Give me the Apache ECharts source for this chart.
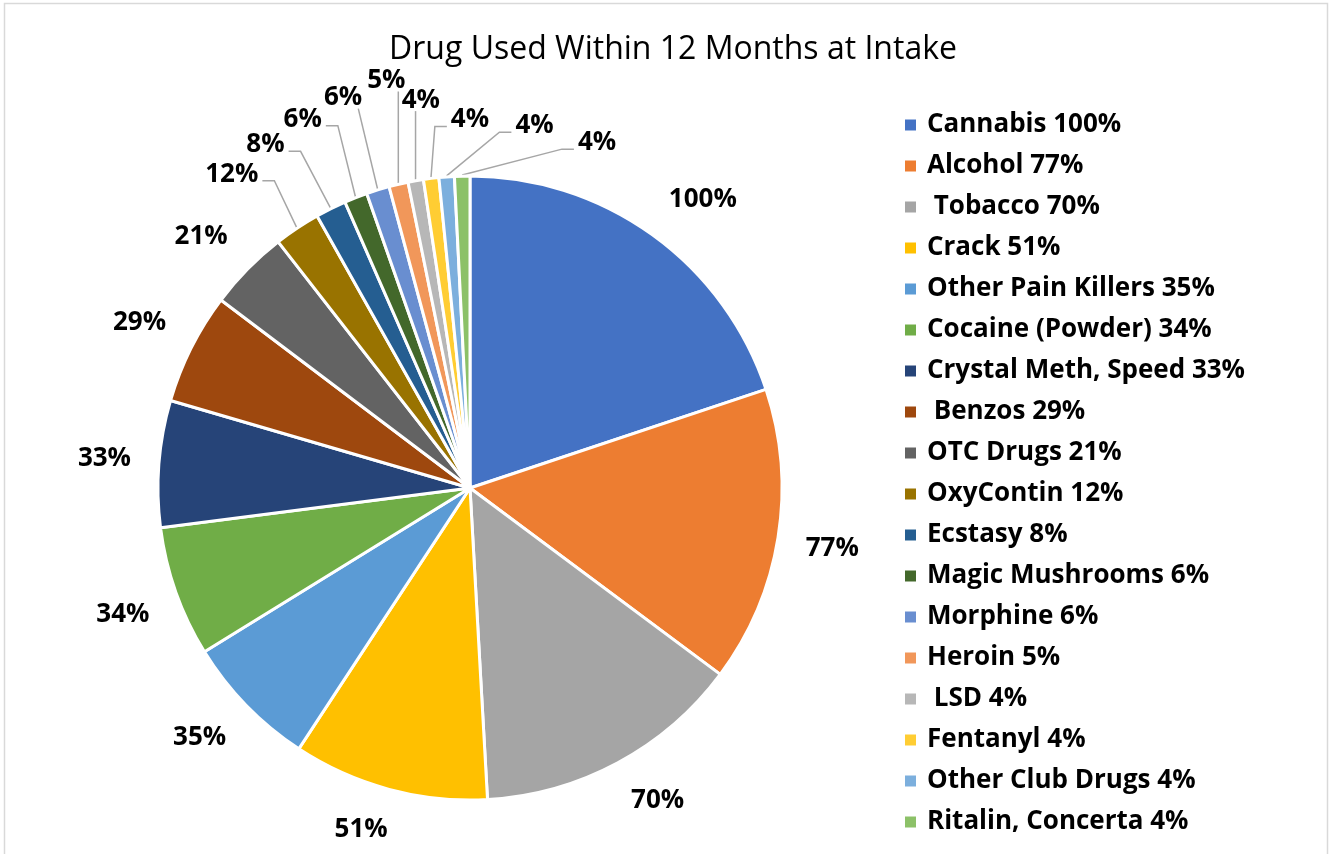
<!DOCTYPE html>
<html>
<head>
<meta charset="utf-8">
<title>Drug Used Within 12 Months at Intake</title>
<script src="https://cdn.jsdelivr.net/npm/echarts@6/dist/echarts.min.js"></script>
<style>
  html, body { margin: 0; padding: 0; background: #fff; }
  #chart { width: 1330px; height: 854px; }
</style>
</head>
<body>
<div id="chart"></div>
<script>
// Share of clients reporting each drug within 12 months of intake (%)
const categories = [
  'Cannabis', 'Alcohol', ' Tobacco', 'Crack', 'Other Pain Killers',
  'Cocaine (Powder)', 'Crystal Meth, Speed', ' Benzos', 'OTC Drugs',
  'OxyContin', 'Ecstasy', 'Magic Mushrooms', 'Morphine', 'Heroin',
  ' LSD', 'Fentanyl', 'Other Club Drugs', 'Ritalin, Concerta'
];
const values = [100, 77, 70, 51, 35, 34, 33, 29, 21, 12, 8, 6, 6, 5, 4, 4, 4, 4];
const colors = [
  '#4472C4', '#ED7D31', '#A5A5A5', '#FFC000', '#5B9BD5', '#70AD47',
  '#264478', '#9E480E', '#636363', '#997300', '#255E91', '#43682B',
  '#698ED0', '#F1975A', '#B7B7B7', '#FFCD33', '#7CAFDD', '#8CC168'
];
const titleText = 'Drug Used Within 12 Months at Intake';

// Pie geometry (pixels)
const CX = 470, CY = 488, R = 312;
// Plain labels hang off a point LABEL_GAP beyond the rim: the label's corner
// (or edge) that faces the pie touches that point
const LABEL_GAP = 28;
const CORNER_BIAS = 3;
// Slices at or above this share get a plain label; thinner ones get a leader line
const SMALL_LIMIT = 15;
// Thin slices are labelled in three groups by where their middle lies:
// left of TOP_BAND the labels fan out leftwards, inside it they sit straight
// above the slice, and past it they fan out to the right of twelve o'clock
const TOP_BAND = [348, 351];
const LEFT_FAN = { start: -37.2, step: 6.4, r: 394, grow: 5.5 };
const RIGHT_FAN = { start: 0, step: 10.1, r: 368, grow: 0 };
const ABOVE = { turn: 2.8, r: 391 };
const FONT = '"Open Sans", sans-serif';
const LABEL_SIZE = 26;

const total = values.reduce((a, b) => a + b, 0);
const midAngles = [];
(function () {
  let cum = 0;
  values.forEach(v => { midAngles.push((cum + v / 2) / total * 360); cum += v; });
})();
const smallIdx = values.map((v, i) => (v < SMALL_LIMIT ? i : -1)).filter(i => i >= 0);
const leftSmall = smallIdx.filter(i => midAngles[i] < TOP_BAND[0]);
const rightSmall = smallIdx.filter(i => midAngles[i] > TOP_BAND[1]);

function polar(deg, r) {
  const a = deg * Math.PI / 180;
  return [CX + r * Math.sin(a), CY - r * Math.cos(a)];
}
const clamp1 = v => Math.max(-1, Math.min(1, v));

const pieData = categories.map((name, i) => ({
  name: name,
  value: values[i],
  itemStyle: { color: colors[i] },
  labelLine: { show: values[i] < SMALL_LIMIT }
}));

const chart = echarts.init(document.getElementById('chart'), null, { renderer: 'canvas' });

chart.setOption({
  animation: false,
  backgroundColor: '#fff',
  title: {
    text: titleText,
    left: 668, top: 29, textAlign: 'center',
    textStyle: { fontFamily: FONT, fontSize: 32, fontWeight: 'normal', color: '#000' }
  },
  legend: {
    orient: 'vertical',
    left: 898, top: 107,
    icon: 'rect', itemWidth: 13, itemHeight: 13, itemGap: 15,
    selectedMode: false,
    data: categories,
    formatter: name => name + ' ' + values[categories.indexOf(name)] + '%',
    textStyle: {
      fontFamily: FONT, fontSize: LABEL_SIZE, fontWeight: 'bold', color: '#000',
      lineHeight: 25, padding: [0, 0, 0, 5]
    }
  },
  graphic: [{
    type: 'rect', silent: true,
    shape: { x: 4.5, y: 3.5, width: 1323, height: 870 },
    style: { fill: 'none', stroke: '#d9d9d9', lineWidth: 1.5 }
  }],
  series: [{
    type: 'pie',
    center: [CX, CY],
    radius: [0, R],
    startAngle: 90,
    clockwise: true,
    avoidLabelOverlap: false,
    data: pieData,
    itemStyle: { borderColor: '#fff', borderWidth: 3 },
    label: {
      show: true,
      position: 'outside',
      formatter: '{c}%',
      fontFamily: FONT, fontSize: LABEL_SIZE, fontWeight: 'bold', color: '#000'
    },
    labelLine: {
      show: true,
      length: 20, length2: 10,
      lineStyle: { color: '#a6a6a6', width: 1.5 }
    },
    labelLayout: function (p) {
      const i = p.dataIndex;
      const mid = midAngles[i];
      const w = p.labelRect.width, h = p.labelRect.height;
      if (values[i] >= SMALL_LIMIT) {
        const a = mid * Math.PI / 180;
        const anchor = polar(mid, R + LABEL_GAP);
        const x = anchor[0] + clamp1(CORNER_BIAS * Math.sin(a)) * w / 2;
        const y = anchor[1] - clamp1(CORNER_BIAS * Math.cos(a)) * h / 2;
        return { x: x, y: y, align: 'center', verticalAlign: 'middle' };
      }
      let pos;
      if (mid < TOP_BAND[0]) {
        const k = leftSmall.indexOf(i);
        pos = polar(LEFT_FAN.start + k * LEFT_FAN.step, LEFT_FAN.r + k * LEFT_FAN.grow);
      } else if (mid > TOP_BAND[1]) {
        const k = rightSmall.indexOf(i);
        pos = polar(RIGHT_FAN.start + k * RIGHT_FAN.step, RIGHT_FAN.r + k * RIGHT_FAN.grow);
      } else {
        pos = polar(mid + ABOVE.turn, ABOVE.r);
      }
      const start = polar(mid, R + 1);
      let end, elbow;
      if (pos[0] + w / 2 + 16 < start[0]) {
        end = [pos[0] + w / 2 + 4, pos[1] + h / 4];
        elbow = [end[0] + 12, end[1]];
      } else if (pos[0] - w / 2 - 16 > start[0]) {
        end = [pos[0] - w / 2 - 4, pos[1] + h / 4];
        elbow = [end[0] - 12, end[1]];
      } else {
        const x = Math.min(Math.max(start[0], pos[0] - w / 2 + 4), pos[0] + w / 2 - 4);
        end = [x, pos[1] + h / 2 - 2];
        elbow = end.slice();
      }
      return {
        x: pos[0], y: pos[1], align: 'center', verticalAlign: 'middle',
        labelLinePoints: [start, elbow, end]
      };
    }
  }]
});
</script>
</body>
</html>
